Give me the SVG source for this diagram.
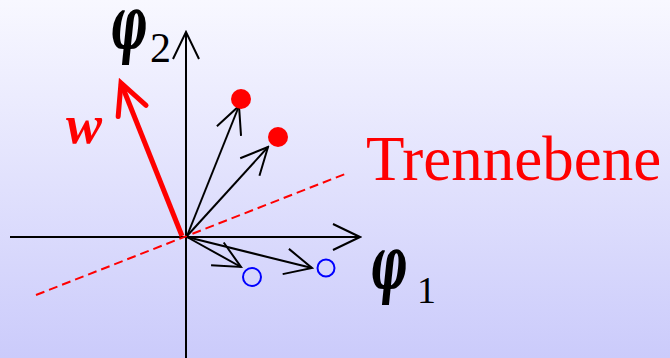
<svg xmlns="http://www.w3.org/2000/svg" width="670" height="358" viewBox="0 0 670 358">
<defs>
<linearGradient id="bg" x1="0" y1="0" x2="0" y2="1">
<stop offset="0" stop-color="#f8f8ff"/>
<stop offset="1" stop-color="#cbcbfb"/>
</linearGradient>
<marker id="ah" viewBox="0 0 30 30" markerWidth="30" markerHeight="30" refX="28" refY="15" orient="auto" markerUnits="userSpaceOnUse">
<path d="M1,2 L28,15 L1,28" fill="none" stroke="#000" stroke-width="2"/>
</marker>
<marker id="ahr" viewBox="0 0 40 40" markerWidth="40" markerHeight="40" refX="34" refY="20" orient="auto" markerUnits="userSpaceOnUse">
<path d="M4,5 L34,20 L4,35" fill="none" stroke="#ff0000" stroke-width="5" stroke-linecap="round"/>
</marker>
<style>
.ax{stroke:#000;stroke-width:2;fill:none}
.vec{stroke:#000;stroke-width:2;fill:none;marker-end:url(#ah)}
.lbl{font-family:"Liberation Serif","Times New Roman",serif;fill:#000}
.phi{font-family:"DejaVu Serif",serif;font-weight:bold;font-style:italic;fill:#000;font-size:52px}
.red{fill:#ff0000}
</style>
</defs>
<rect width="670" height="358" fill="url(#bg)"/>
<g id="connectors">
<line class="ax" x1="10" y1="237" x2="360" y2="237" marker-end="url(#ah)"/>
<line class="ax" x1="186" y1="358" x2="186" y2="32" marker-end="url(#ah)"/>
<line x1="36" y1="295" x2="345" y2="174" stroke="#ff0000" stroke-width="2" stroke-dasharray="9,5"/>
<line class="vec" x1="187" y1="236" x2="239" y2="106"/>
<line class="vec" x1="187" y1="236" x2="268" y2="147"/>
<line class="vec" x1="187" y1="237" x2="241" y2="267"/>
<line class="vec" x1="187" y1="237" x2="312" y2="268"/>
<line x1="182" y1="236" x2="121" y2="83" stroke="#ff0000" stroke-width="5" marker-end="url(#ahr)"/>
</g>
<g id="w"><text class="lbl red" x="66" y="143" font-size="54" font-weight="bold" font-style="italic">w</text></g>
<g id="phi2"><text class="phi" transform="translate(110,49) scale(0.78,1.45)">φ</text><text class="lbl" x="150" y="62" font-size="42">2</text></g>
<g id="phi1"><text class="phi" transform="translate(370,289) scale(0.78,1.45)">φ</text><text class="lbl" x="417" y="303" font-size="38">1</text></g>
<g id="trennebene"><text class="lbl red" x="366" y="180" font-size="63">Trennebene</text></g>
<g id="p1"><circle cx="241" cy="99" r="10" fill="#ff0000"/></g>
<g id="p2"><circle cx="278" cy="137" r="10" fill="#ff0000"/></g>
<g id="n1"><circle cx="252" cy="277" r="9" fill="none" stroke="#0000ff" stroke-width="2"/></g>
<g id="n2"><circle cx="326" cy="268" r="8.5" fill="none" stroke="#0000ff" stroke-width="2"/></g>
</svg>
